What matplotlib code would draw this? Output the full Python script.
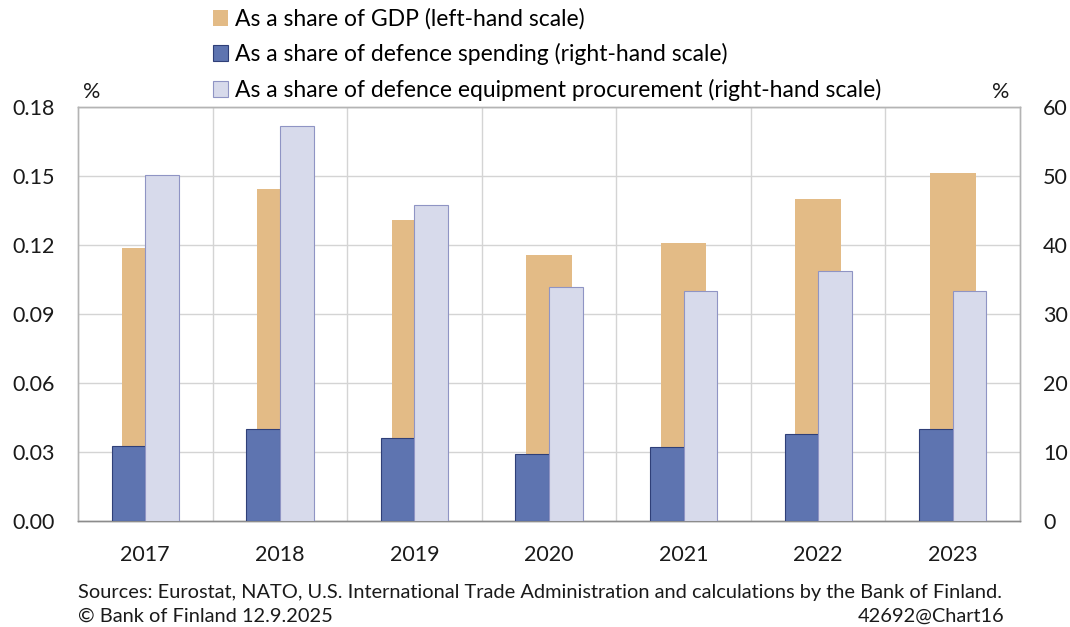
import numpy as np
import matplotlib.pyplot as plt

plt.rcParams['font.family'] = ['Lato', 'DejaVu Sans']

years = ['2017', '2018', '2019', '2020', '2021', '2022', '2023']
share_gdp = [0.1187, 0.1443, 0.1309, 0.1157, 0.1207, 0.1399, 0.1512]
share_defence = [10.9, 13.3, 12.1, 9.7, 10.8, 12.6, 13.4]
share_procurement = [50.2, 57.3, 45.8, 33.9, 33.3, 36.2, 33.3]

c_gdp = '#e3bb86'
c_def = '#5e74b0'
c_proc = '#d7daeb'

fig = plt.figure(figsize=(10.7, 6.27), dpi=100)
ax = fig.add_axes([0.0729, 0.169, 0.8804, 0.6603])
ax2 = ax.twinx()

x = np.arange(len(years))
ax.bar(x, share_gdp, width=0.34, color=c_gdp, zorder=2,
       label='As a share of GDP (left-hand scale)')
ax2.bar(x - 0.125, share_defence, width=0.25, color=c_def, edgecolor='#2f3f78',
        linewidth=0.8, zorder=3, label='As a share of defence spending (right-hand scale)')
ax2.bar(x + 0.125, share_procurement, width=0.25, color=c_proc, edgecolor='#8f94c4',
        linewidth=0.8, zorder=3,
        label='As a share of defence equipment procurement (right-hand scale)')

ax.set_xlim(-0.5, len(years) - 0.5)
ax.set_ylim(0, 0.18)
ax2.set_ylim(0, 60)
ax.set_yticks(np.arange(0, 0.181, 0.03))
ax.set_yticklabels(['{:.2f}'.format(v) for v in np.arange(0, 0.181, 0.03)])
ax2.set_yticks(np.arange(0, 61, 10))
ax.set_xticks(x)
ax.set_xticklabels(years)

# grid: horizontal at ticks, vertical between categories
for yv in np.arange(0.03, 0.181, 0.03):
    ax.axhline(yv, color='#d4d4d4', linewidth=1.0, zorder=0)
for xv in np.arange(0.5, len(years) - 0.5, 1):
    ax.axvline(xv, color='#d4d4d4', linewidth=1.0, zorder=0)

for a in (ax, ax2):
    a.tick_params(axis='both', length=0, labelsize=15.5, colors='#1a1a1a')
    for s in a.spines.values():
        s.set_color('#b4b4b4')
        s.set_linewidth(1.0)
    a.spines['bottom'].set_color('#8c8c8c')
ax.tick_params(axis='x', pad=17)
ax.tick_params(axis='y', pad=17)
ax2.tick_params(axis='y', pad=16.5)

fig.text(0.0776, 0.844, '%', fontsize=15.5, color='#1a1a1a')
fig.text(0.927, 0.844, '%', fontsize=15.5, color='#1a1a1a')

h1, l1 = ax.get_legend_handles_labels()
h2, l2 = ax2.get_legend_handles_labels()
fig.legend(h1 + h2, l1 + l2, loc='upper left', bbox_to_anchor=(0.18, 1.02),
           frameon=False, fontsize=16.5, handlelength=0.65, handleheight=0.7,
           handletextpad=0.3, labelspacing=0.6)

fig.text(0.073, 0.047, 'Sources: Eurostat, NATO, U.S. International Trade Administration and calculations by the Bank of Finland.',
         fontsize=14.4, color='#1a1a1a')
fig.text(0.073, 0.008, '\u00a9 Bank of Finland 12.9.2025', fontsize=14.4, color='#1a1a1a')
fig.text(0.939, 0.008, '42692@Chart16', fontsize=14.4, color='#1a1a1a', ha='right')

plt.savefig('out.png', dpi=100)
